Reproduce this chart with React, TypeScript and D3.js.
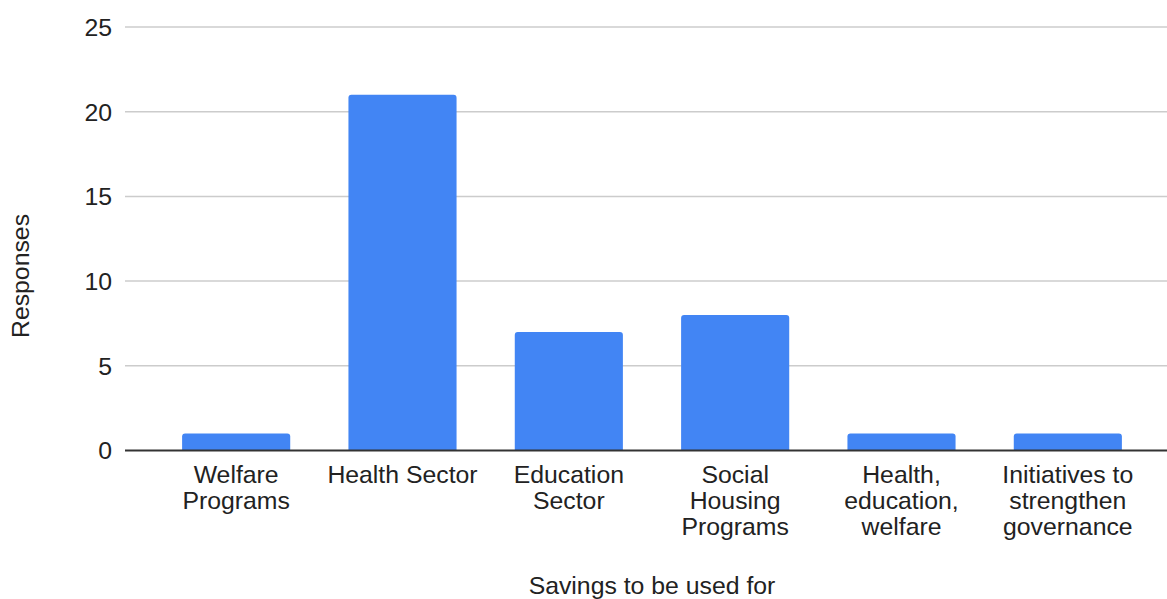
import React from "react";
import * as d3 from "d3";

const categories: string[][] = [
  ["Welfare", "Programs"],
  ["Health Sector"],
  ["Education", "Sector"],
  ["Social", "Housing", "Programs"],
  ["Health,", "education,", "welfare"],
  ["Initiatives to", "strengthen", "governance"],
];
const responses: number[] = [1, 21, 7, 8, 1, 1];
const yTicks: number[] = [0, 5, 10, 15, 20, 25];
const xTitle = "Savings to be used for";
const yTitle = "Responses";

const W = 1167;
const H = 599;
const FONT = "Arial, 'Liberation Sans', sans-serif";
const FS = 24.8;

export default function App() {
  const keys = categories.map((c) => c.join(" "));
  const x = d3
    .scaleBand<string>()
    .domain(keys)
    .range([153, 1151])
    .paddingInner(0.35)
    .paddingOuter(0.175);
  const y = d3.scaleLinear().domain([0, 25]).range([450.5, 27]);
  const plotLeft = 125;
  const plotRight = 1167;
  const r = 3;

  const barPath = (x0: number, w: number, yTop: number, yBot: number) => {
    const rr = Math.min(r, (yBot - yTop) / 2);
    return `M${x0},${yBot}V${yTop + rr}Q${x0},${yTop} ${x0 + rr},${yTop}H${x0 + w - rr}Q${x0 + w},${yTop} ${x0 + w},${yTop + rr}V${yBot}Z`;
  };

  return (
    <svg
      width={W}
      height={H}
      style={{ position: "fixed", left: 0, top: 0, background: "#fff" }}
      fontFamily={FONT}
    >
      <rect x={0} y={0} width={W} height={H} fill="#fff" />
      {yTicks.map((t) => (
        <g key={t}>
          {t !== 0 && (
            <line
              x1={plotLeft}
              x2={plotRight}
              y1={y(t)}
              y2={y(t)}
              stroke="#cccccc"
              strokeWidth={1.5}
            />
          )}
          <text
            x={112}
            y={y(t)}
            dy="0.36em"
            textAnchor="end"
            fontSize={FS}
            fill="#222"
          >
            {t}
          </text>
        </g>
      ))}
      {keys.map((k, i) => (
        <path
          key={k}
          d={barPath(x(k)!, x.bandwidth(), y(responses[i]), y(0))}
          fill="#4285f4"
        />
      ))}
      <line
        x1={plotLeft}
        x2={plotRight}
        y1={y(0)}
        y2={y(0)}
        stroke="#333"
        strokeWidth={2}
      />
      {categories.map((lines, i) => (
        <text
          key={i}
          x={x(keys[i])! + x.bandwidth() / 2}
          textAnchor="middle"
          fontSize={FS}
          fill="#222"
        >
          {lines.map((l, j) => (
            <tspan key={j} x={x(keys[i])! + x.bandwidth() / 2} y={482.5 + j * 26}>
              {l}
            </tspan>
          ))}
        </text>
      ))}
      <text x={652} y={594} textAnchor="middle" fontSize={FS} fill="#222">
        {xTitle}
      </text>
      <text
        transform={`translate(28.5,276) rotate(-90)`}
        textAnchor="middle"
        fontSize={FS}
        fill="#222"
      >
        {yTitle}
      </text>
    </svg>
  );
}
